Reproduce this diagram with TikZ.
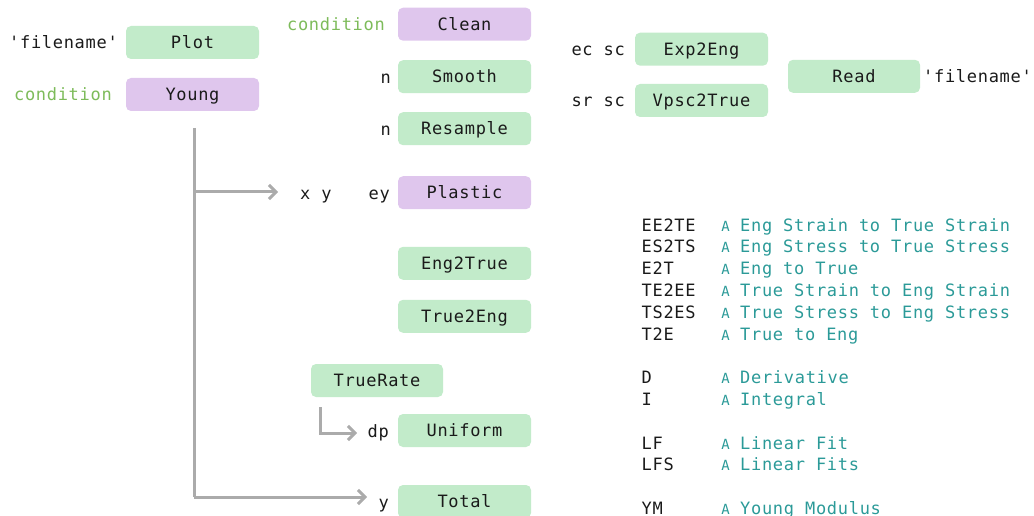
\documentclass[tikz,border=0pt]{standalone}
\usepackage{fontspec}
\setmonofont[LetterSpace=4.1]{DejaVu Sans Mono}
\usetikzlibrary{arrows.meta}
\definecolor{boxgreen}{HTML}{C2EBCA}
\definecolor{boxpurple}{HTML}{DFC6ED}
\definecolor{lblgreen}{HTML}{7DBB5A}
\definecolor{teal2}{HTML}{2B9A98}
\definecolor{txt}{HTML}{1A1A1A}
\definecolor{conn}{HTML}{ABABAB}
\tikzset{
  fnt/.style={font=\ttfamily\fontsize{17}{17}\selectfont},
  box/.style={fnt, text=txt, rounded corners=5pt, minimum width=133pt, minimum height=33pt,
    inner sep=0pt, text height=12.5pt, text depth=0pt},
  gbox/.style={box, fill=boxgreen},
  pbox/.style={box, fill=boxpurple},
  lbl/.style={fnt, text=txt, inner sep=0pt, anchor=base east},
  glbl/.style={lbl, text=lblgreen},
  key/.style={fnt, text=txt, inner sep=0pt, anchor=base west},
  desc/.style={fnt, text=teal2, inner sep=0pt, anchor=base west},
  amark/.style={font=\ttfamily\fontsize{14}{14}\selectfont, text=teal2, inner sep=0pt, anchor=base},
  conline/.style={draw=conn, line width=3pt},
  arr/.style={conline, -{Straight Barb[length=7pt,width=14pt,line width=3pt]}},
}
\begin{document}
\begin{tikzpicture}[x=1pt,y=-1pt]
\useasboundingbox (0,0) rectangle (1034,516);
% boxes
\node[gbox] (plot) at (192.5,42.5) {Plot};
\node[pbox] (young) at (192.5,94.5) {Young};
\node[pbox] (clean) at (464.5,24.2) {Clean};
\node[gbox] (smooth) at (464.5,76.7) {Smooth};
\node[gbox] (resample) at (464.5,128.7) {Resample};
\node[pbox] (plastic) at (464.5,192.7) {Plastic};
\node[gbox] (eng2true) at (464.5,263.3) {Eng2True};
\node[gbox] (true2eng) at (464.5,316.3) {True2Eng};
\node[gbox, minimum width=132pt] (truerate) at (377,380.5) {TrueRate};
\node[gbox] (uniform) at (464.5,430.5) {Uniform};
\node[gbox] (total) at (464.5,501.5) {Total};
\node[gbox] (exp2eng) at (701.5,49.2) {Exp2Eng};
\node[gbox] (vpsc) at (701.5,100.5) {Vpsc2True};
\node[gbox, minimum width=132pt] (read) at (854,76.3) {Read};
% labels
\node[lbl] (l1) at (118,49) {'filename'};
\node[glbl] (l2) at (112,101) {condition};
\node[glbl] (l3) at (385,30.7) {condition};
\node[lbl] (l4) at (391,83.2) {n};
\node[lbl] (l5) at (391,135.2) {n};
\node[key] (xy) at (300,199.2) {x y};
\node[lbl] (l6) at (390,199.2) {ey};
\node[lbl] (l7) at (389,437) {dp};
\node[lbl] (l8) at (389,508) {y};
\node[lbl] (l9) at (625,55.7) {ec sc};
\node[lbl] (l10) at (625,107) {sr sc};
\node[key] (l11) at (923,82.8) {'filename'};
% legend
\foreach \k/\d [count=\i] in {EE2TE/Eng Strain to True Strain, ES2TS/Eng Stress to True Stress,
  E2T/Eng to True, TE2EE/True Strain to Eng Strain, TS2ES/True Stress to Eng Stress, T2E/True to Eng}{
  \node[key] (k\i) at (641.5,{231+21.8*(\i-1)}) {\k};
  \node[amark] (a\i) at (725.7,{231+21.8*(\i-1)}) {A};
  \node[desc] (d\i) at (740,{231+21.8*(\i-1)}) {\d};
}
\node[key] (k7) at (641.5,383.6) {D};
\node[amark] (a7) at (725.7,383.6) {A};
\node[desc] (d7) at (740,383.6) {Derivative};
\node[key] (k8) at (641.5,405.4) {I};
\node[amark] (a8) at (725.7,405.4) {A};
\node[desc] (d8) at (740,405.4) {Integral};
\node[key] (k9) at (641.5,449) {LF};
\node[amark] (a9) at (725.7,449) {A};
\node[desc] (d9) at (740,449) {Linear Fit};
\node[key] (k10) at (641.5,470.8) {LFS};
\node[amark] (a10) at (725.7,470.8) {A};
\node[desc] (d10) at (740,470.8) {Linear Fits};
\node[key] (k11) at (641.5,514.4) {YM};
\node[amark] (a11) at (725.7,514.4) {A};
\node[desc] (d11) at (740,514.4) {Young Modulus};
% connectors
\coordinate (ys) at (194,128);
\coordinate (t1) at (278,192);
\coordinate (t2) at (367,497);
\coordinate (rs) at (320,407);
\coordinate (t3) at (357,433);
\draw[conline] (ys) -- (ys |- t2);
\draw[arr] (ys |- t1) -- (t1);
\draw[arr] (ys |- t2) -- (t2);
\draw[arr] (rs) |- (t3);
\end{tikzpicture}
\end{document}
